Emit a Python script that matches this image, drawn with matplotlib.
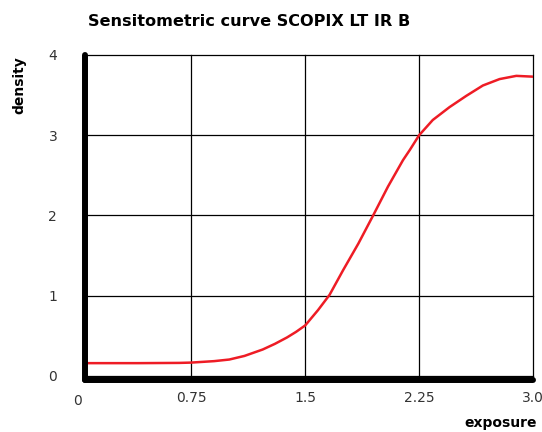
import matplotlib
matplotlib.use("Agg")
import matplotlib.pyplot as plt

# Datos
exposure = [0.05, 0.4, 0.67, 0.75, 0.9, 1.0, 1.1, 1.22, 1.3, 1.38, 1.44, 1.5,
            1.584, 1.66, 1.75, 1.85, 1.95, 2.045, 2.144, 2.19, 2.25, 2.34, 2.45,
            2.56, 2.67, 2.78, 2.89, 3.0]
density = [0.16, 0.16, 0.163, 0.167, 0.185, 0.205, 0.25, 0.33, 0.40, 0.48, 0.55, 0.63,
           0.82, 1.01, 1.32, 1.65, 2.01, 2.36, 2.69, 2.82, 3.0, 3.19, 3.35,
           3.49, 3.62, 3.70, 3.74, 3.73]

x_ticks = [0.75, 1.5, 2.25, 3.0]
x_labels = ["0.75", "1.5", "2.25", "3.0"]
y_ticks = [0, 1, 2, 3, 4]

plt.rcParams['font.family'] = ['DejaVu Sans']

fig = plt.figure(figsize=(5.42, 4.32), dpi=100)
ax = fig.add_axes([85 / 542, 52 / 432, 448 / 542, 325 / 432])

ax.plot(exposure, density, color='#ee1c25', linewidth=1.8,
        solid_capstyle='round', solid_joinstyle='round')

ax.set_xlim(0.05, 3.0)
ax.set_ylim(-0.05, 4.0)
ax.set_xticks(x_ticks)
ax.set_xticklabels(x_labels)
ax.set_yticks(y_ticks)
ax.tick_params(length=0, labelsize=10, labelcolor='#333333')
ax.tick_params(axis='y', pad=20)
ax.tick_params(axis='x', pad=8)

# etiqueta 0 del eje x (fuera del rango visible)
ax.text(0.0, -0.042, "0", transform=ax.get_xaxis_transform(), ha='center', va='top',
        fontsize=10, color='#333333', clip_on=False)

ax.grid(True, color='black', linewidth=0.9)
for tl in ax.get_xgridlines() + ax.get_ygridlines():
    tl.set_clip_on(False)

ax.spines['top'].set_visible(False)
ax.spines['right'].set_visible(False)
for s in ['left', 'bottom']:
    ax.spines[s].set_linewidth(4.3)
    ax.spines[s].set_capstyle('round')
    ax.spines[s].set_zorder(5)

fig.text(88 / 542, 1 - 22 / 432, "Sensitometric curve SCOPIX LT IR B", ha='left', va='center',
         fontsize=11.6, fontweight='bold')
fig.text(19 / 542, 1 - 56 / 432, "density", rotation=90, ha='center', va='top',
         fontsize=10, fontweight='bold')
fig.text(537 / 542, 1 - 423 / 432, "exposure", ha='right', va='center',
         fontsize=10, fontweight='bold')

fig.savefig("out.png", dpi=100)
